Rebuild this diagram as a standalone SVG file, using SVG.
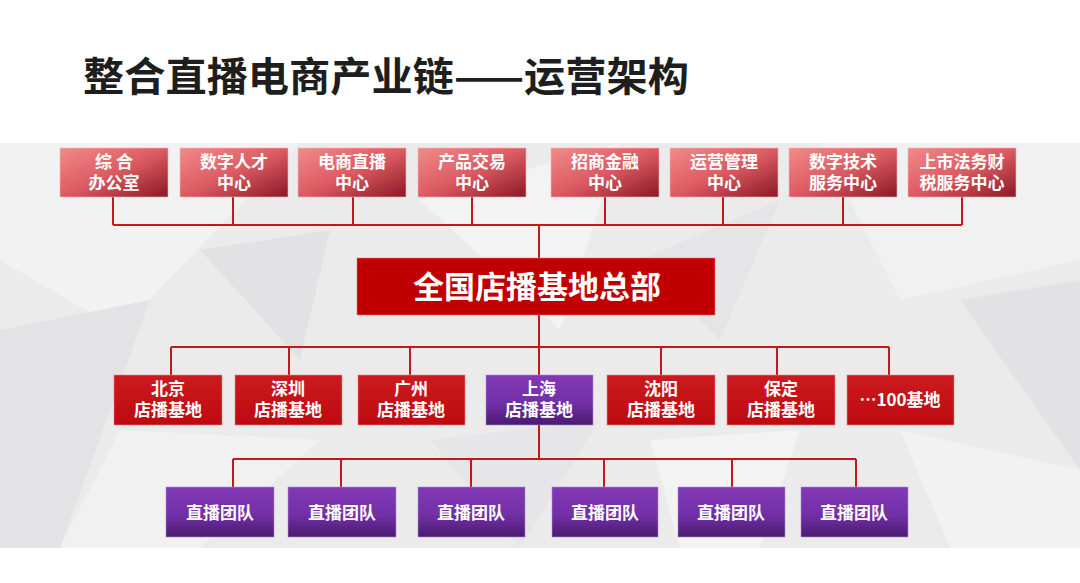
<svg xmlns="http://www.w3.org/2000/svg" width="1080" height="583" viewBox="0 0 1080 583">
<defs>
<linearGradient id="gTop" x1="0" y1="0" x2="1" y2="1">
<stop offset="0" stop-color="#f28a8a"/>
<stop offset="0.5" stop-color="#dc5b62"/>
<stop offset="1" stop-color="#8a1826"/>
</linearGradient>
<linearGradient id="gRed" x1="0" y1="0" x2="0" y2="1">
<stop offset="0" stop-color="#cc1a1f"/>
<stop offset="1" stop-color="#bd0a10"/>
</linearGradient>
<linearGradient id="gPur" x1="0" y1="0" x2="0" y2="1">
<stop offset="0" stop-color="#8338b8"/>
<stop offset="0.55" stop-color="#7230a6"/>
<stop offset="1" stop-color="#4a1a72"/>
</linearGradient>
<style>
.t{font-family:"Noto Sans CJK SC","Liberation Sans",sans-serif;font-weight:bold;fill:#fff;text-anchor:middle}
.s{font-size:17px}
.top{fill:url(#gTop);stroke:#f3b7b7;stroke-width:0.6}
.red{fill:url(#gRed);stroke:#e88;stroke-width:0.6}
.pur{fill:url(#gPur);stroke:#b08ad0;stroke-width:0.6}
.ln{fill:none;stroke:#c8161d;stroke-width:2}
</style>
</defs>
<rect width="1080" height="583" fill="#ffffff"/>
<g id="background">
<rect x="0" y="143" width="1080" height="405" fill="#ebebec"/>
<polygon points="0,143 300,143 120,330 0,260" fill="#f2f2f3"/>
<polygon points="0,330 150,300 60,548 0,548" fill="#e3e3e5"/>
<polygon points="200,250 330,230 300,360" fill="#e2e2e4"/>
<polygon points="420,200 620,143 560,330" fill="#f3f3f4"/>
<polygon points="640,260 780,200 720,340" fill="#e5e5e7"/>
<polygon points="820,143 1080,143 1080,260 900,300" fill="#f1f1f2"/>
<polygon points="960,300 1080,280 1080,470" fill="#e2e2e4"/>
<polygon points="900,430 1080,470 1080,548 950,548" fill="#f2f2f3"/>
<polygon points="120,430 320,440 200,548 60,548" fill="#f1f1f2"/>
<polygon points="430,440 600,420 520,548" fill="#e6e6e8"/>
<polygon points="650,440 800,430 760,548 680,548" fill="#f3f3f4"/>
</g>
<text x="83" y="91" font-family="Noto Sans CJK SC, Liberation Sans, sans-serif" font-weight="bold" font-size="40" fill="#1e1e1e" textLength="606" lengthAdjust="spacingAndGlyphs">整合直播电商产业链——运营架构</text>
<g id="connectors">
<path class="ln" d="M113,197V225M233,197V225M353,197V225M472,197V225M605,197V225M723,197V225M843,197V225M962,197V225M113,225H962M539,225V258"/>
<path class="ln" d="M539,315V375M171,347H889M171,347V375M289,347V375M410,347V375M661,347V375M777,347V375M889,347V375"/>
<path class="ln" d="M539,425V459M233,459H856M233,459V487M341,459V487M471,459V487M604,459V487M732,459V487M856,459V487"/>
</g>
<g id="n-zonghe"><rect class="top" x="60" y="148" width="108" height="49"/><text class="t s"><tspan x="114" y="168">综 合</tspan><tspan x="114" y="189">办公室</tspan></text></g>
<g id="n-rencai"><rect class="top" x="180" y="148" width="108" height="49"/><text class="t s"><tspan x="234" y="168">数字人才</tspan><tspan x="234" y="189">中心</tspan></text></g>
<g id="n-zhibo"><rect class="top" x="298" y="148" width="108" height="49"/><text class="t s"><tspan x="352" y="168">电商直播</tspan><tspan x="352" y="189">中心</tspan></text></g>
<g id="n-jiaoyi"><rect class="top" x="418" y="148" width="108" height="49"/><text class="t s"><tspan x="472" y="168">产品交易</tspan><tspan x="472" y="189">中心</tspan></text></g>
<g id="n-jinrong"><rect class="top" x="551" y="148" width="108" height="49"/><text class="t s"><tspan x="605" y="168">招商金融</tspan><tspan x="605" y="189">中心</tspan></text></g>
<g id="n-yunying"><rect class="top" x="670" y="148" width="108" height="49"/><text class="t s"><tspan x="724" y="168">运营管理</tspan><tspan x="724" y="189">中心</tspan></text></g>
<g id="n-jishu"><rect class="top" x="789" y="148" width="108" height="49"/><text class="t s"><tspan x="843" y="168">数字技术</tspan><tspan x="843" y="189">服务中心</tspan></text></g>
<g id="n-fawu"><rect class="top" x="908" y="148" width="108" height="49"/><text class="t s"><tspan x="962" y="168">上市法务财</tspan><tspan x="962" y="189">税服务中心</tspan></text></g>
<g id="n-hq"><rect x="357" y="258" width="358" height="57" fill="#c00000" stroke="#e77" stroke-width="0.6"/><text class="t" x="537" y="298" font-size="31">全国店播基地总部</text></g>
<g id="n-beijing"><rect class="red" x="114" y="375" width="108" height="50"/><text class="t s"><tspan x="168" y="395">北京</tspan><tspan x="168" y="416">店播基地</tspan></text></g>
<g id="n-shenzhen"><rect class="red" x="235" y="375" width="107" height="50"/><text class="t s"><tspan x="288" y="395">深圳</tspan><tspan x="288" y="416">店播基地</tspan></text></g>
<g id="n-guangzhou"><rect class="red" x="358" y="375" width="107" height="50"/><text class="t s"><tspan x="411" y="395">广州</tspan><tspan x="411" y="416">店播基地</tspan></text></g>
<g id="n-shanghai"><rect class="pur" x="486" y="375" width="107" height="50"/><text class="t s"><tspan x="539" y="395">上海</tspan><tspan x="539" y="416">店播基地</tspan></text></g>
<g id="n-shenyang"><rect class="red" x="607" y="375" width="108" height="50"/><text class="t s"><tspan x="661" y="395">沈阳</tspan><tspan x="661" y="416">店播基地</tspan></text></g>
<g id="n-baoding"><rect class="red" x="727" y="375" width="108" height="50"/><text class="t s"><tspan x="781" y="395">保定</tspan><tspan x="781" y="416">店播基地</tspan></text></g>
<g id="n-more"><rect class="red" x="847" y="375" width="107" height="50"/><text class="t s" x="900" y="406">…100基地</text></g>
<g id="n-team1"><rect class="pur" x="166" y="487" width="108" height="50"/><text class="t s" x="220" y="519">直播团队</text></g>
<g id="n-team2"><rect class="pur" x="288" y="487" width="108" height="50"/><text class="t s" x="342" y="519">直播团队</text></g>
<g id="n-team3"><rect class="pur" x="418" y="487" width="107" height="50"/><text class="t s" x="471" y="519">直播团队</text></g>
<g id="n-team4"><rect class="pur" x="552" y="487" width="106" height="50"/><text class="t s" x="605" y="519">直播团队</text></g>
<g id="n-team5"><rect class="pur" x="678" y="487" width="107" height="50"/><text class="t s" x="731" y="519">直播团队</text></g>
<g id="n-team6"><rect class="pur" x="801" y="487" width="107" height="50"/><text class="t s" x="854" y="519">直播团队</text></g>
</svg>
